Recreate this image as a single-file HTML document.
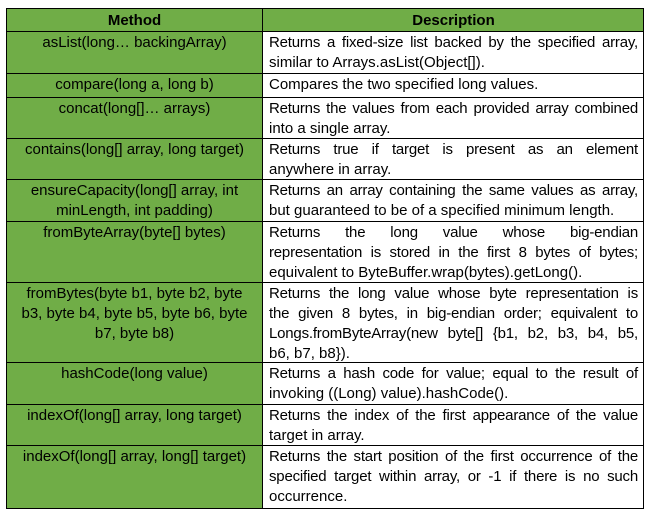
<!DOCTYPE html>
<html><head><meta charset="utf-8"><style>
*{margin:0;padding:0;box-sizing:border-box}
body{width:653px;height:517px;background:#fff;font-family:"Liberation Sans",sans-serif;font-size:15px;color:#000;position:relative;overflow:hidden}
.c{position:absolute;border:1px solid #000;line-height:20px;white-space:nowrap}
.m{left:6px;width:257px;background:#70ad47;text-align:center;padding-top:1px}
.d{left:262px;width:382px;padding:1px 5px 0 6px}
.d div{text-align:left}
.d div.j{text-align:justify;text-align-last:justify;letter-spacing:-0.2px}
.h{font-weight:bold;font-size:15px;line-height:21px}
</style></head><body>
<div class="c m h" style="top:8px;height:24px">Method</div>
<div class="c d h" style="top:8px;height:24px;background:#70ad47;text-align:center">Description</div>

<div class="c m" style="top:31px;height:43px">asList(long… backingArray)</div>
<div class="c d" style="top:31px;height:43px"><div class="j">Returns a fixed-size list backed by the specified array,</div><div>similar to Arrays.asList(Object[]).</div></div>

<div class="c m" style="top:73px;height:25px">compare(long a, long b)</div>
<div class="c d" style="top:73px;height:25px"><div>Compares the two specified long values.</div></div>

<div class="c m" style="top:97px;height:42px">concat(long[]… arrays)</div>
<div class="c d" style="top:97px;height:42px"><div class="j">Returns the values from each provided array combined</div><div>into a single array.</div></div>

<div class="c m" style="top:138px;height:42px">contains(long[] array, long target)</div>
<div class="c d" style="top:138px;height:42px"><div class="j">Returns true if target is present as an element</div><div>anywhere in array.</div></div>

<div class="c m" style="top:179px;height:43px">ensureCapacity(long[] array, int<br>minLength, int padding)</div>
<div class="c d" style="top:179px;height:43px"><div class="j">Returns an array containing the same values as array,</div><div>but guaranteed to be of a specified minimum length.</div></div>

<div class="c m" style="top:221px;height:62px">fromByteArray(byte[] bytes)</div>
<div class="c d" style="top:221px;height:62px"><div class="j">Returns the long value whose big-endian</div><div class="j">representation is stored in the first 8 bytes of bytes;</div><div>equivalent to ByteBuffer.wrap(bytes).getLong().</div></div>

<div class="c m" style="top:282px;height:81px">fromBytes(byte b1, byte b2, byte<br>b3, byte b4, byte b5, byte b6, byte<br>b7, byte b8)</div>
<div class="c d" style="top:282px;height:81px"><div class="j">Returns the long value whose byte representation is</div><div class="j">the given 8 bytes, in big-endian order; equivalent to</div><div class="j">Longs.fromByteArray(new byte[] {b1, b2, b3, b4, b5,</div><div>b6, b7, b8}).</div></div>

<div class="c m" style="top:362px;height:43px">hashCode(long value)</div>
<div class="c d" style="top:362px;height:43px"><div class="j">Returns a hash code for value; equal to the result of</div><div>invoking ((Long) value).hashCode().</div></div>

<div class="c m" style="top:404px;height:42px">indexOf(long[] array, long target)</div>
<div class="c d" style="top:404px;height:42px"><div class="j">Returns the index of the first appearance of the value</div><div>target in array.</div></div>

<div class="c m" style="top:445px;height:64px">indexOf(long[] array, long[] target)</div>
<div class="c d" style="top:445px;height:64px"><div class="j">Returns the start position of the first occurrence of the</div><div class="j">specified target within array, or -1 if there is no such</div><div>occurrence.</div></div>
</body></html>
